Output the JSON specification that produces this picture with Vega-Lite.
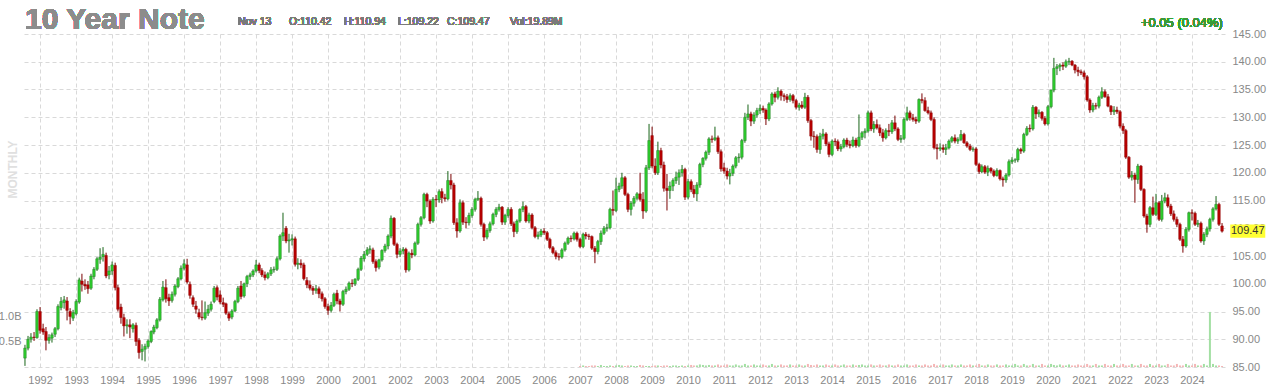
{
"$schema":"https://vega.github.io/schema/vega-lite/v6.json",
"width":1202,"height":333,
"autosize":{"type":"none"},
"padding":{"left":23,"top":34,"right":42,"bottom":21},
"background":"#ffffff",
"config":{"view":{"stroke":null},"font":"Liberation Sans","scale":{"continuousPadding":0},"axis":{"labelFont":"Liberation Sans","titleFont":"Liberation Sans","labelOverlap":false,"labelFlush":false}},
"data":{"values":[
{"d":"1991-08-01","o":86.6,"h":89.0,"l":85.2,"c":88.4},
{"d":"1991-09-01","o":88.4,"h":90.6,"l":88.0,"c":90.0},
{"d":"1991-10-01","o":90.0,"h":91.1,"l":89.4,"c":90.4},
{"d":"1991-11-01","o":90.4,"h":91.3,"l":89.7,"c":90.3},
{"d":"1991-12-01","o":90.3,"h":95.4,"l":90.1,"c":95.0},
{"d":"1992-01-01","o":95.0,"h":95.8,"l":91.0,"c":91.6},
{"d":"1992-02-01","o":91.9,"h":92.8,"l":90.8,"c":91.3},
{"d":"1992-03-01","o":91.4,"h":92.2,"l":88.0,"c":89.8},
{"d":"1992-04-01","o":89.8,"h":90.9,"l":89.2,"c":90.3},
{"d":"1992-05-01","o":90.2,"h":91.2,"l":89.4,"c":90.8},
{"d":"1992-06-01","o":90.9,"h":92.2,"l":90.4,"c":91.9},
{"d":"1992-07-01","o":91.9,"h":96.3,"l":91.6,"c":95.9},
{"d":"1992-08-01","o":95.7,"h":97.6,"l":95.2,"c":96.8},
{"d":"1992-09-01","o":96.6,"h":97.8,"l":95.5,"c":97.1},
{"d":"1992-10-01","o":96.9,"h":97.6,"l":93.4,"c":95.2},
{"d":"1992-11-01","o":95.0,"h":95.6,"l":92.7,"c":94.1},
{"d":"1992-12-01","o":93.8,"h":95.3,"l":93.3,"c":94.8},
{"d":"1993-01-01","o":94.6,"h":97.2,"l":94.3,"c":96.8},
{"d":"1993-02-01","o":96.7,"h":101.1,"l":96.4,"c":100.7},
{"d":"1993-03-01","o":100.5,"h":101.8,"l":98.6,"c":99.9},
{"d":"1993-04-01","o":99.9,"h":100.8,"l":98.9,"c":99.6},
{"d":"1993-05-01","o":99.8,"h":100.5,"l":98.2,"c":99.1},
{"d":"1993-06-01","o":99.2,"h":101.8,"l":98.9,"c":101.4},
{"d":"1993-07-01","o":101.3,"h":103.0,"l":100.8,"c":102.6},
{"d":"1993-08-01","o":102.6,"h":104.8,"l":102.3,"c":104.5},
{"d":"1993-09-01","o":104.4,"h":106.4,"l":103.6,"c":104.8},
{"d":"1993-10-01","o":104.9,"h":106.6,"l":104.0,"c":105.3},
{"d":"1993-11-01","o":105.1,"h":105.6,"l":101.0,"c":101.4},
{"d":"1993-12-01","o":101.6,"h":103.2,"l":100.8,"c":102.3},
{"d":"1994-01-01","o":102.3,"h":104.0,"l":101.6,"c":103.4},
{"d":"1994-02-01","o":103.3,"h":103.8,"l":98.8,"c":99.3},
{"d":"1994-03-01","o":99.3,"h":99.8,"l":95.0,"c":95.4},
{"d":"1994-04-01","o":95.8,"h":96.4,"l":92.8,"c":93.9},
{"d":"1994-05-01","o":93.9,"h":94.6,"l":90.5,"c":92.4},
{"d":"1994-06-01","o":92.4,"h":93.6,"l":91.0,"c":92.6},
{"d":"1994-07-01","o":92.6,"h":93.6,"l":90.2,"c":92.2},
{"d":"1994-08-01","o":91.9,"h":92.9,"l":91.2,"c":92.6},
{"d":"1994-09-01","o":92.5,"h":93.0,"l":88.8,"c":89.6},
{"d":"1994-10-01","o":89.8,"h":90.2,"l":86.5,"c":87.6},
{"d":"1994-11-01","o":87.8,"h":89.1,"l":86.2,"c":88.2},
{"d":"1994-12-01","o":88.2,"h":89.2,"l":86.0,"c":88.7},
{"d":"1995-01-01","o":88.7,"h":90.0,"l":88.3,"c":89.7},
{"d":"1995-02-01","o":89.6,"h":91.6,"l":89.3,"c":91.4},
{"d":"1995-03-01","o":91.3,"h":92.6,"l":90.9,"c":92.2},
{"d":"1995-04-01","o":92.1,"h":93.8,"l":91.8,"c":93.5},
{"d":"1995-05-01","o":93.5,"h":97.6,"l":93.2,"c":97.2},
{"d":"1995-06-01","o":97.1,"h":100.5,"l":96.8,"c":99.4},
{"d":"1995-07-01","o":99.3,"h":100.8,"l":96.6,"c":97.3},
{"d":"1995-08-01","o":97.5,"h":98.2,"l":96.0,"c":96.9},
{"d":"1995-09-01","o":97.0,"h":98.6,"l":96.6,"c":98.1},
{"d":"1995-10-01","o":98.1,"h":99.9,"l":97.7,"c":99.6},
{"d":"1995-11-01","o":99.5,"h":101.2,"l":99.2,"c":100.9},
{"d":"1995-12-01","o":100.9,"h":103.3,"l":100.6,"c":102.8},
{"d":"1996-01-01","o":102.8,"h":104.4,"l":102.4,"c":103.6},
{"d":"1996-02-01","o":103.4,"h":104.5,"l":100.0,"c":100.3},
{"d":"1996-03-01","o":99.9,"h":100.4,"l":97.3,"c":97.9},
{"d":"1996-04-01","o":97.5,"h":97.9,"l":95.8,"c":96.3},
{"d":"1996-05-01","o":96.0,"h":96.9,"l":94.6,"c":95.4},
{"d":"1996-06-01","o":94.8,"h":95.5,"l":93.6,"c":94.0},
{"d":"1996-07-01","o":94.0,"h":97.0,"l":93.4,"c":93.9},
{"d":"1996-08-01","o":93.8,"h":96.8,"l":93.5,"c":94.8},
{"d":"1996-09-01","o":94.7,"h":96.2,"l":94.2,"c":95.4},
{"d":"1996-10-01","o":95.4,"h":96.8,"l":95.0,"c":96.3},
{"d":"1996-11-01","o":96.8,"h":99.6,"l":96.5,"c":99.2},
{"d":"1996-12-01","o":99.3,"h":99.7,"l":97.0,"c":97.6},
{"d":"1997-01-01","o":98.0,"h":98.8,"l":96.3,"c":96.7},
{"d":"1997-02-01","o":96.6,"h":97.5,"l":95.8,"c":96.3},
{"d":"1997-03-01","o":96.4,"h":96.6,"l":94.4,"c":94.7},
{"d":"1997-04-01","o":94.6,"h":95.0,"l":93.3,"c":93.8},
{"d":"1997-05-01","o":94.0,"h":95.4,"l":93.6,"c":95.1},
{"d":"1997-06-01","o":95.1,"h":97.1,"l":94.9,"c":96.8},
{"d":"1997-07-01","o":96.8,"h":99.6,"l":96.5,"c":99.2},
{"d":"1997-08-01","o":99.6,"h":100.5,"l":97.2,"c":97.7},
{"d":"1997-09-01","o":97.8,"h":100.2,"l":97.5,"c":100.0},
{"d":"1997-10-01","o":100.0,"h":101.6,"l":99.4,"c":101.3},
{"d":"1997-11-01","o":101.3,"h":102.0,"l":100.7,"c":101.6},
{"d":"1997-12-01","o":101.6,"h":102.6,"l":101.2,"c":102.3},
{"d":"1998-01-01","o":102.3,"h":104.3,"l":102.0,"c":103.4},
{"d":"1998-02-01","o":103.4,"h":103.8,"l":101.9,"c":102.4},
{"d":"1998-03-01","o":102.4,"h":102.8,"l":101.2,"c":101.6},
{"d":"1998-04-01","o":101.6,"h":102.2,"l":100.6,"c":101.1},
{"d":"1998-05-01","o":101.1,"h":102.1,"l":100.8,"c":101.8},
{"d":"1998-06-01","o":101.8,"h":103.0,"l":101.4,"c":102.5},
{"d":"1998-07-01","o":102.5,"h":103.1,"l":102.0,"c":102.6},
{"d":"1998-08-01","o":102.6,"h":104.9,"l":102.3,"c":104.5},
{"d":"1998-09-01","o":104.5,"h":108.9,"l":104.2,"c":108.6},
{"d":"1998-10-01","o":108.6,"h":112.8,"l":107.7,"c":109.2},
{"d":"1998-11-01","o":110.0,"h":110.4,"l":107.3,"c":107.7},
{"d":"1998-12-01","o":107.7,"h":109.0,"l":105.6,"c":107.9},
{"d":"1999-01-01","o":107.9,"h":108.9,"l":106.9,"c":108.1},
{"d":"1999-02-01","o":108.1,"h":108.5,"l":103.1,"c":103.5},
{"d":"1999-03-01","o":103.5,"h":104.6,"l":102.6,"c":103.7},
{"d":"1999-04-01","o":103.7,"h":104.4,"l":102.8,"c":103.4},
{"d":"1999-05-01","o":103.4,"h":103.8,"l":100.6,"c":100.9},
{"d":"1999-06-01","o":100.6,"h":101.2,"l":99.2,"c":99.8},
{"d":"1999-07-01","o":99.8,"h":100.6,"l":98.8,"c":99.2},
{"d":"1999-08-01","o":99.2,"h":99.6,"l":98.0,"c":98.8},
{"d":"1999-09-01","o":98.8,"h":99.8,"l":98.2,"c":99.1},
{"d":"1999-10-01","o":99.1,"h":99.5,"l":97.4,"c":98.2},
{"d":"1999-11-01","o":98.2,"h":98.6,"l":96.8,"c":97.3},
{"d":"1999-12-01","o":97.3,"h":97.6,"l":95.5,"c":95.9},
{"d":"2000-01-01","o":95.9,"h":96.4,"l":94.4,"c":95.2},
{"d":"2000-02-01","o":95.2,"h":96.7,"l":94.8,"c":96.1},
{"d":"2000-03-01","o":96.1,"h":98.4,"l":95.8,"c":98.1},
{"d":"2000-04-01","o":98.3,"h":98.9,"l":96.3,"c":96.9},
{"d":"2000-05-01","o":96.9,"h":97.3,"l":95.0,"c":96.3},
{"d":"2000-06-01","o":96.3,"h":98.9,"l":96.0,"c":98.6},
{"d":"2000-07-01","o":98.6,"h":99.5,"l":98.1,"c":99.0},
{"d":"2000-08-01","o":99.0,"h":100.4,"l":98.7,"c":100.1},
{"d":"2000-09-01","o":100.1,"h":100.8,"l":99.4,"c":100.0},
{"d":"2000-10-01","o":100.0,"h":101.0,"l":99.6,"c":100.8},
{"d":"2000-11-01","o":100.8,"h":102.9,"l":100.5,"c":102.6},
{"d":"2000-12-01","o":102.6,"h":105.0,"l":102.3,"c":104.6},
{"d":"2001-01-01","o":104.5,"h":105.9,"l":104.0,"c":105.3},
{"d":"2001-02-01","o":105.3,"h":106.6,"l":105.0,"c":106.1},
{"d":"2001-03-01","o":106.1,"h":106.9,"l":105.4,"c":106.3},
{"d":"2001-04-01","o":106.1,"h":106.5,"l":103.6,"c":104.0},
{"d":"2001-05-01","o":104.0,"h":104.4,"l":102.2,"c":102.9},
{"d":"2001-06-01","o":103.0,"h":104.5,"l":102.6,"c":104.3},
{"d":"2001-07-01","o":104.3,"h":106.2,"l":104.0,"c":106.0},
{"d":"2001-08-01","o":106.0,"h":107.2,"l":105.6,"c":106.8},
{"d":"2001-09-01","o":106.8,"h":108.9,"l":106.2,"c":108.6},
{"d":"2001-10-01","o":108.6,"h":112.3,"l":108.2,"c":111.8},
{"d":"2001-11-01","o":111.8,"h":112.0,"l":106.8,"c":107.1},
{"d":"2001-12-01","o":107.1,"h":107.4,"l":104.6,"c":105.3},
{"d":"2002-01-01","o":105.3,"h":106.4,"l":104.8,"c":105.9},
{"d":"2002-02-01","o":105.9,"h":106.6,"l":105.3,"c":106.2},
{"d":"2002-03-01","o":106.2,"h":106.5,"l":102.0,"c":102.5},
{"d":"2002-04-01","o":102.5,"h":105.8,"l":102.2,"c":105.5},
{"d":"2002-05-01","o":105.5,"h":106.2,"l":104.6,"c":105.2},
{"d":"2002-06-01","o":105.2,"h":107.6,"l":104.9,"c":107.3},
{"d":"2002-07-01","o":107.3,"h":111.0,"l":107.0,"c":110.7},
{"d":"2002-08-01","o":110.7,"h":112.2,"l":110.3,"c":111.9},
{"d":"2002-09-01","o":111.9,"h":116.4,"l":111.6,"c":116.1},
{"d":"2002-10-01","o":116.1,"h":116.4,"l":113.8,"c":114.9},
{"d":"2002-11-01","o":114.9,"h":115.2,"l":110.8,"c":111.3},
{"d":"2002-12-01","o":111.3,"h":115.6,"l":111.0,"c":115.2},
{"d":"2003-01-01","o":115.2,"h":116.0,"l":113.8,"c":115.1},
{"d":"2003-02-01","o":115.1,"h":117.0,"l":114.6,"c":116.6},
{"d":"2003-03-01","o":116.6,"h":117.2,"l":114.5,"c":115.5},
{"d":"2003-04-01","o":115.5,"h":116.2,"l":114.8,"c":115.3},
{"d":"2003-05-01","o":115.3,"h":120.3,"l":115.0,"c":118.6},
{"d":"2003-06-01","o":118.6,"h":119.8,"l":117.0,"c":117.8},
{"d":"2003-07-01","o":117.8,"h":118.2,"l":110.6,"c":111.0},
{"d":"2003-08-01","o":111.0,"h":111.8,"l":108.3,"c":109.5},
{"d":"2003-09-01","o":109.5,"h":115.2,"l":109.2,"c":114.6},
{"d":"2003-10-01","o":114.6,"h":115.0,"l":110.6,"c":111.1},
{"d":"2003-11-01","o":111.1,"h":112.0,"l":110.0,"c":111.0},
{"d":"2003-12-01","o":111.0,"h":112.8,"l":110.5,"c":112.3},
{"d":"2004-01-01","o":112.3,"h":113.8,"l":111.9,"c":113.4},
{"d":"2004-02-01","o":113.4,"h":115.5,"l":113.0,"c":115.2},
{"d":"2004-03-01","o":115.2,"h":116.7,"l":114.9,"c":115.4},
{"d":"2004-04-01","o":115.4,"h":115.7,"l":110.3,"c":110.7},
{"d":"2004-05-01","o":110.7,"h":111.0,"l":107.7,"c":108.4},
{"d":"2004-06-01","o":108.4,"h":110.0,"l":108.0,"c":109.6},
{"d":"2004-07-01","o":109.6,"h":111.2,"l":109.2,"c":110.8},
{"d":"2004-08-01","o":110.8,"h":112.8,"l":110.5,"c":112.5},
{"d":"2004-09-01","o":112.5,"h":113.8,"l":112.0,"c":113.4},
{"d":"2004-10-01","o":113.4,"h":114.4,"l":113.0,"c":113.8},
{"d":"2004-11-01","o":113.8,"h":114.0,"l":110.6,"c":111.1},
{"d":"2004-12-01","o":111.1,"h":112.6,"l":110.6,"c":112.3},
{"d":"2005-01-01","o":112.3,"h":113.8,"l":111.9,"c":113.4},
{"d":"2005-02-01","o":113.4,"h":113.8,"l":110.4,"c":110.8},
{"d":"2005-03-01","o":110.8,"h":111.2,"l":108.4,"c":109.4},
{"d":"2005-04-01","o":109.4,"h":111.6,"l":109.0,"c":111.3},
{"d":"2005-05-01","o":111.3,"h":113.6,"l":111.0,"c":113.4},
{"d":"2005-06-01","o":113.4,"h":114.8,"l":112.9,"c":113.9},
{"d":"2005-07-01","o":113.9,"h":114.2,"l":111.0,"c":111.3},
{"d":"2005-08-01","o":111.3,"h":112.8,"l":110.9,"c":112.4},
{"d":"2005-09-01","o":112.4,"h":112.7,"l":109.8,"c":110.1},
{"d":"2005-10-01","o":110.1,"h":110.4,"l":108.2,"c":108.5},
{"d":"2005-11-01","o":108.5,"h":109.4,"l":108.0,"c":108.8},
{"d":"2005-12-01","o":108.8,"h":109.9,"l":108.4,"c":109.5},
{"d":"2006-01-01","o":109.5,"h":110.0,"l":108.8,"c":109.2},
{"d":"2006-02-01","o":109.2,"h":109.5,"l":107.7,"c":108.0},
{"d":"2006-03-01","o":108.0,"h":108.3,"l":106.2,"c":106.5},
{"d":"2006-04-01","o":106.5,"h":106.8,"l":105.3,"c":105.6},
{"d":"2006-05-01","o":105.6,"h":106.0,"l":104.4,"c":104.9},
{"d":"2006-06-01","o":104.9,"h":105.5,"l":104.2,"c":104.8},
{"d":"2006-07-01","o":104.8,"h":106.4,"l":104.5,"c":106.1},
{"d":"2006-08-01","o":106.1,"h":107.6,"l":105.8,"c":107.3},
{"d":"2006-09-01","o":107.3,"h":108.5,"l":107.0,"c":108.2},
{"d":"2006-10-01","o":108.2,"h":108.7,"l":107.5,"c":108.1},
{"d":"2006-11-01","o":108.1,"h":109.4,"l":107.8,"c":109.1},
{"d":"2006-12-01","o":109.1,"h":109.4,"l":107.6,"c":108.0},
{"d":"2007-01-01","o":108.0,"h":108.3,"l":106.4,"c":106.7,"v":0.02},
{"d":"2007-02-01","o":106.7,"h":109.2,"l":106.4,"c":108.9,"v":0.03},
{"d":"2007-03-01","o":108.9,"h":109.3,"l":108.0,"c":108.6,"v":0.02},
{"d":"2007-04-01","o":108.6,"h":109.0,"l":107.9,"c":108.5,"v":0.02},
{"d":"2007-05-01","o":108.5,"h":108.7,"l":106.1,"c":106.4,"v":0.03},
{"d":"2007-06-01","o":106.4,"h":106.8,"l":103.7,"c":105.8,"v":0.03},
{"d":"2007-07-01","o":105.8,"h":107.9,"l":105.3,"c":107.6,"v":0.02},
{"d":"2007-08-01","o":107.6,"h":109.6,"l":107.0,"c":109.1,"v":0.04},
{"d":"2007-09-01","o":109.1,"h":110.4,"l":108.8,"c":110.0,"v":0.02},
{"d":"2007-10-01","o":110.0,"h":110.8,"l":109.4,"c":110.1,"v":0.02},
{"d":"2007-11-01","o":110.1,"h":113.7,"l":109.8,"c":113.4,"v":0.03},
{"d":"2007-12-01","o":113.4,"h":116.8,"l":112.3,"c":113.2,"v":0.02},
{"d":"2008-01-01","o":113.2,"h":119.1,"l":112.9,"c":117.0,"v":0.03},
{"d":"2008-02-01","o":117.0,"h":118.2,"l":116.5,"c":117.6,"v":0.04},
{"d":"2008-03-01","o":117.6,"h":120.0,"l":117.1,"c":119.1,"v":0.03},
{"d":"2008-04-01","o":119.1,"h":119.4,"l":115.8,"c":116.1,"v":0.02},
{"d":"2008-05-01","o":116.1,"h":116.4,"l":112.9,"c":113.4,"v":0.03},
{"d":"2008-06-01","o":113.4,"h":114.9,"l":112.3,"c":114.5,"v":0.03},
{"d":"2008-07-01","o":114.5,"h":115.8,"l":113.9,"c":115.4,"v":0.02},
{"d":"2008-08-01","o":115.4,"h":116.5,"l":115.0,"c":116.2,"v":0.02},
{"d":"2008-09-01","o":116.2,"h":120.0,"l":114.8,"c":115.2,"v":0.04},
{"d":"2008-10-01","o":115.2,"h":116.5,"l":111.7,"c":113.1,"v":0.03},
{"d":"2008-11-01","o":113.1,"h":121.4,"l":112.8,"c":120.9,"v":0.02},
{"d":"2008-12-01","o":120.9,"h":128.8,"l":120.5,"c":125.8,"v":0.02},
{"d":"2009-01-01","o":126.7,"h":128.3,"l":120.8,"c":121.2,"v":0.02},
{"d":"2009-02-01","o":121.2,"h":122.6,"l":119.6,"c":120.0,"v":0.03},
{"d":"2009-03-01","o":120.0,"h":125.6,"l":119.6,"c":124.0,"v":0.03},
{"d":"2009-04-01","o":124.0,"h":124.5,"l":120.8,"c":121.4,"v":0.02},
{"d":"2009-05-01","o":121.4,"h":122.0,"l":116.6,"c":117.2,"v":0.03},
{"d":"2009-06-01","o":117.2,"h":119.8,"l":113.2,"c":116.8,"v":0.03},
{"d":"2009-07-01","o":116.8,"h":118.4,"l":115.3,"c":117.6,"v":0.02},
{"d":"2009-08-01","o":117.6,"h":119.0,"l":116.7,"c":118.6,"v":0.03},
{"d":"2009-09-01","o":118.6,"h":120.2,"l":118.0,"c":119.2,"v":0.03},
{"d":"2009-10-01","o":119.2,"h":120.6,"l":117.8,"c":120.0,"v":0.02},
{"d":"2009-11-01","o":120.0,"h":121.4,"l":119.3,"c":120.6,"v":0.03},
{"d":"2009-12-01","o":120.6,"h":120.9,"l":115.1,"c":115.6,"v":0.02},
{"d":"2010-01-01","o":115.6,"h":118.9,"l":115.2,"c":118.4,"v":0.03},
{"d":"2010-02-01","o":118.4,"h":118.8,"l":116.5,"c":117.0,"v":0.04},
{"d":"2010-03-01","o":117.0,"h":117.8,"l":115.5,"c":116.2,"v":0.03},
{"d":"2010-04-01","o":116.2,"h":118.3,"l":114.9,"c":117.8,"v":0.03},
{"d":"2010-05-01","o":117.8,"h":121.8,"l":117.3,"c":121.5,"v":0.05},
{"d":"2010-06-01","o":121.5,"h":122.8,"l":121.0,"c":122.6,"v":0.04},
{"d":"2010-07-01","o":122.6,"h":124.0,"l":122.2,"c":123.7,"v":0.03},
{"d":"2010-08-01","o":123.7,"h":126.4,"l":123.2,"c":126.1,"v":0.04},
{"d":"2010-09-01","o":126.1,"h":126.7,"l":125.4,"c":126.0,"v":0.03},
{"d":"2010-10-01","o":126.0,"h":128.3,"l":125.7,"c":126.3,"v":0.03},
{"d":"2010-11-01","o":126.3,"h":126.7,"l":123.4,"c":123.8,"v":0.05},
{"d":"2010-12-01","o":123.8,"h":124.2,"l":120.2,"c":120.7,"v":0.03},
{"d":"2011-01-01","o":120.9,"h":121.8,"l":119.8,"c":120.3,"v":0.03},
{"d":"2011-02-01","o":120.3,"h":120.9,"l":118.8,"c":119.4,"v":0.05},
{"d":"2011-03-01","o":119.4,"h":120.7,"l":117.9,"c":119.9,"v":0.03},
{"d":"2011-04-01","o":119.9,"h":121.5,"l":119.4,"c":121.2,"v":0.03},
{"d":"2011-05-01","o":121.2,"h":123.0,"l":120.8,"c":122.7,"v":0.05},
{"d":"2011-06-01","o":122.7,"h":123.5,"l":121.8,"c":122.8,"v":0.03},
{"d":"2011-07-01","o":122.8,"h":126.1,"l":122.4,"c":125.8,"v":0.03},
{"d":"2011-08-01","o":125.8,"h":130.8,"l":125.4,"c":130.0,"v":0.06},
{"d":"2011-09-01","o":130.0,"h":132.3,"l":129.5,"c":130.6,"v":0.03},
{"d":"2011-10-01","o":130.6,"h":131.0,"l":128.4,"c":129.3,"v":0.03},
{"d":"2011-11-01","o":129.3,"h":130.9,"l":128.8,"c":130.4,"v":0.05},
{"d":"2011-12-01","o":130.4,"h":131.7,"l":129.9,"c":131.2,"v":0.03},
{"d":"2012-01-01","o":131.2,"h":132.3,"l":130.6,"c":131.6,"v":0.03},
{"d":"2012-02-01","o":131.6,"h":132.1,"l":130.8,"c":131.3,"v":0.05},
{"d":"2012-03-01","o":131.3,"h":131.6,"l":128.6,"c":129.7,"v":0.03},
{"d":"2012-04-01","o":129.7,"h":132.7,"l":129.3,"c":132.4,"v":0.03},
{"d":"2012-05-01","o":132.4,"h":134.5,"l":132.1,"c":134.2,"v":0.06},
{"d":"2012-06-01","o":134.2,"h":134.6,"l":132.7,"c":133.6,"v":0.03},
{"d":"2012-07-01","o":133.6,"h":135.4,"l":133.2,"c":134.7,"v":0.03},
{"d":"2012-08-01","o":134.7,"h":135.0,"l":133.0,"c":133.9,"v":0.05},
{"d":"2012-09-01","o":133.9,"h":134.3,"l":132.9,"c":133.7,"v":0.03},
{"d":"2012-10-01","o":133.7,"h":134.2,"l":132.6,"c":133.2,"v":0.03},
{"d":"2012-11-01","o":133.2,"h":134.3,"l":132.8,"c":133.9,"v":0.05},
{"d":"2012-12-01","o":133.9,"h":134.2,"l":132.5,"c":133.0,"v":0.03},
{"d":"2013-01-01","o":133.0,"h":133.3,"l":131.4,"c":131.8,"v":0.03},
{"d":"2013-02-01","o":131.8,"h":132.6,"l":131.2,"c":132.2,"v":0.05},
{"d":"2013-03-01","o":132.2,"h":132.9,"l":131.5,"c":131.8,"v":0.03},
{"d":"2013-04-01","o":131.8,"h":134.4,"l":131.5,"c":133.6,"v":0.03},
{"d":"2013-05-01","o":133.6,"h":134.0,"l":129.0,"c":129.4,"v":0.06},
{"d":"2013-06-01","o":129.4,"h":129.7,"l":125.8,"c":126.6,"v":0.04},
{"d":"2013-07-01","o":126.6,"h":127.5,"l":124.5,"c":126.5,"v":0.03},
{"d":"2013-08-01","o":126.5,"h":126.9,"l":123.6,"c":124.2,"v":0.05},
{"d":"2013-09-01","o":124.2,"h":127.2,"l":123.4,"c":126.6,"v":0.03},
{"d":"2013-10-01","o":126.6,"h":127.9,"l":126.0,"c":127.0,"v":0.03},
{"d":"2013-11-01","o":127.0,"h":127.3,"l":124.8,"c":125.2,"v":0.05},
{"d":"2013-12-01","o":125.2,"h":125.6,"l":122.8,"c":123.3,"v":0.03},
{"d":"2014-01-01","o":123.3,"h":126.0,"l":123.0,"c":125.7,"v":0.03},
{"d":"2014-02-01","o":125.7,"h":126.2,"l":124.8,"c":125.6,"v":0.05},
{"d":"2014-03-01","o":125.6,"h":126.0,"l":123.9,"c":124.3,"v":0.03},
{"d":"2014-04-01","o":124.3,"h":125.2,"l":123.8,"c":124.7,"v":0.03},
{"d":"2014-05-01","o":124.7,"h":126.2,"l":124.4,"c":125.9,"v":0.05},
{"d":"2014-06-01","o":125.9,"h":126.3,"l":124.6,"c":125.1,"v":0.03},
{"d":"2014-07-01","o":125.1,"h":125.8,"l":124.4,"c":124.9,"v":0.03},
{"d":"2014-08-01","o":124.9,"h":126.5,"l":124.6,"c":125.9,"v":0.05},
{"d":"2014-09-01","o":125.9,"h":126.3,"l":124.5,"c":124.9,"v":0.03},
{"d":"2014-10-01","o":124.9,"h":130.5,"l":124.6,"c":126.4,"v":0.04},
{"d":"2014-11-01","o":126.4,"h":127.5,"l":125.9,"c":127.2,"v":0.05},
{"d":"2014-12-01","o":127.2,"h":128.0,"l":126.2,"c":127.5,"v":0.03},
{"d":"2015-01-01","o":127.5,"h":131.2,"l":127.2,"c":130.8,"v":0.03},
{"d":"2015-02-01","o":130.8,"h":131.2,"l":127.5,"c":127.9,"v":0.05},
{"d":"2015-03-01","o":127.9,"h":129.3,"l":127.2,"c":128.7,"v":0.03},
{"d":"2015-04-01","o":128.7,"h":129.6,"l":127.8,"c":128.1,"v":0.03},
{"d":"2015-05-01","o":128.1,"h":128.7,"l":126.6,"c":127.2,"v":0.05},
{"d":"2015-06-01","o":127.2,"h":127.9,"l":125.6,"c":126.3,"v":0.03},
{"d":"2015-07-01","o":126.3,"h":128.0,"l":126.0,"c":127.6,"v":0.03},
{"d":"2015-08-01","o":127.6,"h":128.8,"l":126.6,"c":127.4,"v":0.05},
{"d":"2015-09-01","o":127.4,"h":129.5,"l":127.0,"c":129.0,"v":0.03},
{"d":"2015-10-01","o":129.0,"h":130.3,"l":127.5,"c":127.9,"v":0.03},
{"d":"2015-11-01","o":127.9,"h":128.2,"l":125.7,"c":126.0,"v":0.05},
{"d":"2015-12-01","o":126.0,"h":126.8,"l":125.4,"c":126.2,"v":0.03},
{"d":"2016-01-01","o":126.2,"h":130.0,"l":125.9,"c":129.6,"v":0.03},
{"d":"2016-02-01","o":129.6,"h":131.9,"l":129.3,"c":130.8,"v":0.05},
{"d":"2016-03-01","o":130.8,"h":131.2,"l":129.4,"c":129.9,"v":0.03},
{"d":"2016-04-01","o":129.9,"h":130.6,"l":129.2,"c":129.6,"v":0.03},
{"d":"2016-05-01","o":129.6,"h":130.1,"l":128.8,"c":129.3,"v":0.05},
{"d":"2016-06-01","o":129.3,"h":133.4,"l":129.0,"c":133.2,"v":0.03},
{"d":"2016-07-01","o":133.2,"h":134.3,"l":132.5,"c":133.0,"v":0.03},
{"d":"2016-08-01","o":133.0,"h":133.6,"l":131.0,"c":131.2,"v":0.05},
{"d":"2016-09-01","o":131.2,"h":131.9,"l":130.5,"c":130.8,"v":0.03},
{"d":"2016-10-01","o":130.8,"h":131.2,"l":129.3,"c":129.6,"v":0.03},
{"d":"2016-11-01","o":129.6,"h":130.0,"l":124.2,"c":124.5,"v":0.06},
{"d":"2016-12-01","o":124.5,"h":125.2,"l":122.4,"c":124.3,"v":0.03},
{"d":"2017-01-01","o":124.3,"h":125.3,"l":123.9,"c":124.5,"v":0.03},
{"d":"2017-02-01","o":124.5,"h":125.1,"l":123.6,"c":124.2,"v":0.05},
{"d":"2017-03-01","o":124.2,"h":125.2,"l":123.2,"c":124.5,"v":0.03},
{"d":"2017-04-01","o":124.5,"h":126.0,"l":124.2,"c":125.7,"v":0.03},
{"d":"2017-05-01","o":125.7,"h":126.6,"l":125.4,"c":126.3,"v":0.05},
{"d":"2017-06-01","o":126.3,"h":126.9,"l":125.3,"c":125.7,"v":0.03},
{"d":"2017-07-01","o":125.7,"h":126.4,"l":125.2,"c":126.0,"v":0.03},
{"d":"2017-08-01","o":126.0,"h":127.7,"l":125.7,"c":126.9,"v":0.05},
{"d":"2017-09-01","o":126.9,"h":127.2,"l":125.2,"c":125.4,"v":0.03},
{"d":"2017-10-01","o":125.4,"h":125.7,"l":124.5,"c":124.8,"v":0.03},
{"d":"2017-11-01","o":124.8,"h":125.2,"l":123.9,"c":124.2,"v":0.05},
{"d":"2017-12-01","o":124.2,"h":124.7,"l":123.8,"c":124.3,"v":0.03},
{"d":"2018-01-01","o":124.3,"h":124.6,"l":121.2,"c":121.5,"v":0.03},
{"d":"2018-02-01","o":121.5,"h":121.8,"l":119.8,"c":120.2,"v":0.06},
{"d":"2018-03-01","o":120.2,"h":121.5,"l":119.9,"c":121.1,"v":0.03},
{"d":"2018-04-01","o":121.1,"h":121.4,"l":119.8,"c":120.1,"v":0.03},
{"d":"2018-05-01","o":120.1,"h":121.3,"l":119.4,"c":120.8,"v":0.05},
{"d":"2018-06-01","o":120.8,"h":121.0,"l":119.9,"c":120.3,"v":0.03},
{"d":"2018-07-01","o":120.3,"h":120.6,"l":119.2,"c":119.5,"v":0.03},
{"d":"2018-08-01","o":119.5,"h":120.8,"l":119.3,"c":120.4,"v":0.05},
{"d":"2018-09-01","o":120.4,"h":120.6,"l":118.6,"c":118.9,"v":0.03},
{"d":"2018-10-01","o":118.9,"h":119.3,"l":117.5,"c":118.7,"v":0.03},
{"d":"2018-11-01","o":118.7,"h":119.9,"l":118.2,"c":119.6,"v":0.05},
{"d":"2018-12-01","o":119.6,"h":122.4,"l":119.3,"c":122.0,"v":0.03},
{"d":"2019-01-01","o":122.0,"h":122.8,"l":121.6,"c":122.3,"v":0.03},
{"d":"2019-02-01","o":122.3,"h":122.6,"l":121.8,"c":122.3,"v":0.06},
{"d":"2019-03-01","o":122.3,"h":124.5,"l":121.9,"c":124.2,"v":0.03},
{"d":"2019-04-01","o":124.2,"h":124.5,"l":123.4,"c":123.9,"v":0.03},
{"d":"2019-05-01","o":123.9,"h":127.2,"l":123.6,"c":126.9,"v":0.06},
{"d":"2019-06-01","o":126.9,"h":128.4,"l":126.6,"c":128.0,"v":0.03},
{"d":"2019-07-01","o":128.0,"h":128.7,"l":127.3,"c":127.9,"v":0.03},
{"d":"2019-08-01","o":127.9,"h":132.2,"l":127.6,"c":131.8,"v":0.06},
{"d":"2019-09-01","o":131.8,"h":132.0,"l":129.7,"c":130.6,"v":0.03},
{"d":"2019-10-01","o":130.6,"h":131.4,"l":130.0,"c":130.9,"v":0.03},
{"d":"2019-11-01","o":130.9,"h":131.1,"l":129.4,"c":129.8,"v":0.06},
{"d":"2019-12-01","o":129.8,"h":130.2,"l":128.5,"c":128.8,"v":0.03},
{"d":"2020-01-01","o":128.8,"h":132.2,"l":128.5,"c":131.9,"v":0.03},
{"d":"2020-02-01","o":131.9,"h":135.0,"l":131.6,"c":134.9,"v":0.06},
{"d":"2020-03-01","o":134.9,"h":140.7,"l":134.5,"c":138.8,"v":0.04},
{"d":"2020-04-01","o":138.8,"h":139.6,"l":137.6,"c":139.1,"v":0.03},
{"d":"2020-05-01","o":139.1,"h":139.7,"l":138.3,"c":139.4,"v":0.05},
{"d":"2020-06-01","o":139.4,"h":139.9,"l":138.5,"c":139.2,"v":0.03},
{"d":"2020-07-01","o":139.2,"h":140.4,"l":138.9,"c":140.0,"v":0.03},
{"d":"2020-08-01","o":140.0,"h":140.7,"l":139.4,"c":140.1,"v":0.05},
{"d":"2020-09-01","o":140.1,"h":140.3,"l":139.2,"c":139.4,"v":0.03},
{"d":"2020-10-01","o":139.4,"h":139.6,"l":137.9,"c":138.5,"v":0.03},
{"d":"2020-11-01","o":138.5,"h":139.1,"l":137.4,"c":138.2,"v":0.05},
{"d":"2020-12-01","o":138.2,"h":138.6,"l":137.6,"c":138.0,"v":0.03},
{"d":"2021-01-01","o":138.0,"h":138.4,"l":136.8,"c":137.3,"v":0.03},
{"d":"2021-02-01","o":137.3,"h":137.6,"l":132.8,"c":133.1,"v":0.06},
{"d":"2021-03-01","o":133.1,"h":133.4,"l":130.8,"c":131.3,"v":0.03},
{"d":"2021-04-01","o":131.3,"h":132.6,"l":130.9,"c":132.1,"v":0.03},
{"d":"2021-05-01","o":132.1,"h":132.6,"l":131.4,"c":132.0,"v":0.06},
{"d":"2021-06-01","o":132.0,"h":133.9,"l":131.6,"c":133.6,"v":0.03},
{"d":"2021-07-01","o":133.6,"h":135.4,"l":133.3,"c":134.6,"v":0.03},
{"d":"2021-08-01","o":134.6,"h":135.0,"l":133.5,"c":133.7,"v":0.06},
{"d":"2021-09-01","o":133.7,"h":134.2,"l":131.8,"c":132.0,"v":0.03},
{"d":"2021-10-01","o":132.0,"h":132.2,"l":130.4,"c":131.0,"v":0.03},
{"d":"2021-11-01","o":131.0,"h":132.0,"l":130.4,"c":131.3,"v":0.06},
{"d":"2021-12-01","o":131.3,"h":131.9,"l":130.6,"c":131.0,"v":0.03},
{"d":"2022-01-01","o":131.0,"h":131.3,"l":128.0,"c":128.4,"v":0.03},
{"d":"2022-02-01","o":128.4,"h":128.9,"l":127.0,"c":127.6,"v":0.06},
{"d":"2022-03-01","o":127.6,"h":127.9,"l":122.5,"c":122.8,"v":0.03},
{"d":"2022-04-01","o":122.8,"h":123.0,"l":118.9,"c":119.2,"v":0.03},
{"d":"2022-05-01","o":119.2,"h":120.3,"l":118.6,"c":119.6,"v":0.06},
{"d":"2022-06-01","o":119.6,"h":120.0,"l":114.6,"c":118.8,"v":0.03},
{"d":"2022-07-01","o":118.8,"h":121.6,"l":118.0,"c":121.2,"v":0.03},
{"d":"2022-08-01","o":121.2,"h":121.4,"l":116.7,"c":117.0,"v":0.06},
{"d":"2022-09-01","o":117.0,"h":117.2,"l":111.9,"c":112.2,"v":0.03},
{"d":"2022-10-01","o":112.2,"h":112.6,"l":109.2,"c":110.7,"v":0.03},
{"d":"2022-11-01","o":110.7,"h":114.0,"l":110.2,"c":113.7,"v":0.06},
{"d":"2022-12-01","o":113.7,"h":115.7,"l":112.2,"c":112.5,"v":0.03},
{"d":"2023-01-01","o":112.5,"h":116.2,"l":112.2,"c":114.6,"v":0.03},
{"d":"2023-02-01","o":114.6,"h":114.9,"l":111.3,"c":111.6,"v":0.06},
{"d":"2023-03-01","o":111.6,"h":116.0,"l":111.2,"c":114.9,"v":0.03},
{"d":"2023-04-01","o":114.9,"h":116.4,"l":114.5,"c":115.5,"v":0.03},
{"d":"2023-05-01","o":115.5,"h":116.1,"l":113.7,"c":114.0,"v":0.06},
{"d":"2023-06-01","o":114.0,"h":114.4,"l":112.2,"c":112.6,"v":0.03},
{"d":"2023-07-01","o":112.6,"h":113.2,"l":111.2,"c":111.6,"v":0.03},
{"d":"2023-08-01","o":111.6,"h":112.1,"l":110.2,"c":110.7,"v":0.06},
{"d":"2023-09-01","o":110.7,"h":111.0,"l":107.7,"c":108.0,"v":0.03},
{"d":"2023-10-01","o":108.0,"h":108.6,"l":105.6,"c":106.8,"v":0.03},
{"d":"2023-11-01","o":106.8,"h":110.2,"l":106.5,"c":109.8,"v":0.06},
{"d":"2023-12-01","o":109.8,"h":113.0,"l":109.4,"c":112.8,"v":0.03},
{"d":"2024-01-01","o":112.8,"h":113.4,"l":111.4,"c":112.7,"v":0.03},
{"d":"2024-02-01","o":112.7,"h":113.0,"l":110.4,"c":110.7,"v":0.06},
{"d":"2024-03-01","o":110.7,"h":111.5,"l":110.2,"c":110.9,"v":0.03},
{"d":"2024-04-01","o":110.9,"h":111.2,"l":107.4,"c":107.7,"v":0.03},
{"d":"2024-05-01","o":107.7,"h":109.3,"l":107.0,"c":108.9,"v":0.06},
{"d":"2024-06-01","o":108.9,"h":110.3,"l":108.4,"c":109.9,"v":0.03},
{"d":"2024-07-01","o":109.9,"h":111.9,"l":109.4,"c":111.6,"v":1.08},
{"d":"2024-08-01","o":111.6,"h":113.8,"l":111.2,"c":113.5,"v":0.06},
{"d":"2024-09-01","o":113.5,"h":115.8,"l":113.2,"c":114.3,"v":0.03},
{"d":"2024-10-01","o":114.3,"h":114.6,"l":110.4,"c":110.7,"v":0.03},
{"d":"2024-11-01","o":110.42,"h":110.94,"l":109.22,"c":109.47,"v":0.02}
]},
"encoding":{"x":{"field":"d","type":"temporal","scale":{"type":"utc","nice":false,"padding":0,"domain":[{"year":1991,"month":7,"date":12,"utc":true},{"year":2024,"month":12,"date":1,"utc":true}]},"axis":{"orient":"bottom","format":"%Y","tickCount":{"interval":"year","step":1},"grid":true,"gridDash":[4,3],"gridColor":"#d9d9d9","ticks":false,"domain":false,"labelPadding":7,"labelColor":"#888888","labelFontSize":11,"labelOverlap":false,"labelFlush":false,"title":null}}},
"layer":[
{"transform":[{"filter":"isValid(datum.v)"}],"mark":{"type":"bar","width":2},"encoding":{"y":{"field":"v","type":"quantitative","scale":{"domain":[0,6.53],"nice":false},"axis":{"orient":"left","values":[0.5,1.0],"tickCount":10,"labelExpr":"format(datum.value,'.1f')+'B'","grid":false,"ticks":false,"domain":false,"labelPadding":2,"labelColor":"#888888","labelFontSize":11,"title":"MONTHLY","titleColor":"#e0e0e0","titleFontSize":12,"titleFontWeight":"bold","titleAngle":-90,"titleX":-11,"titleY":135,"titleAlign":"center","titleBaseline":"middle"}},"color":{"condition":{"test":"datum.c >= datum.o","value":"#a3dfa3"},"value":"#f4b6b6"}}},
{"layer":[
{"mark":{"type":"rule","strokeWidth":1},"encoding":{"y":{"field":"l","type":"quantitative","scale":{"domain":[85,145],"nice":false,"zero":false},"axis":{"orient":"right","values":[85,90,95,100,105,110,115,120,125,130,135,140,145],"tickCount":20,"format":".2f","grid":true,"gridDash":[4,3],"gridColor":"#d9d9d9","ticks":false,"domain":false,"labelPadding":7,"labelColor":"#888888","labelFontSize":11,"labelOverlap":false,"labelFlush":false,"title":null}},"y2":{"field":"h"},"color":{"condition":{"test":"datum.c >= datum.o","value":"#176417"},"value":"#7a0000"}}},
{"mark":{"type":"bar","width":2.6,"strokeWidth":0.4},"encoding":{"y":{"field":"o","type":"quantitative"},"y2":{"field":"c"},"fill":{"condition":{"test":"datum.c >= datum.o","value":"#2ecc2e"},"value":"#b80000"},"stroke":{"condition":{"test":"datum.c >= datum.o","value":"#1d6e1d"},"value":"#850000"}}},
{"transform":[{"filter":"datum.c == 109.47"}],"mark":{"type":"point","shape":"M-1,-0.38H1V0.38H-1Z","size":1225,"filled":true,"fill":"#ffff33","opacity":1,"strokeWidth":0},"encoding":{"x":{"datum":{"year":2025,"month":7,"date":20,"utc":true},"type":"temporal"},"y":{"field":"c","type":"quantitative"}}},
{"transform":[{"filter":"datum.c == 109.47"}],"mark":{"type":"text","fontSize":11,"fill":"#333333","align":"center","baseline":"middle"},"encoding":{"x":{"datum":{"year":2025,"month":7,"date":20,"utc":true},"type":"temporal"},"y":{"field":"c","type":"quantitative"},"text":{"field":"c","type":"quantitative","format":".2f"}}},
{"mark":{"type":"text","text":"10 Year Note","fontSize":30,"fontWeight":"bold","fill":"#8c8c8c","align":"left","baseline":"alphabetic"},"encoding":{"x":{"datum":{"year":1991,"month":8,"date":2,"utc":true},"type":"temporal"},"y":{"datum":145.9,"type":"quantitative"}}},
{"mark":{"type":"text","text":"Nov 13","fontSize":10.5,"fill":"#7a7a7a","align":"left","baseline":"alphabetic"},"encoding":{"x":{"datum":{"year":1997,"month":7,"date":2,"utc":true},"type":"temporal"},"y":{"datum":146.6,"type":"quantitative"}}},
{"mark":{"type":"text","text":"O:110.42","fontSize":10.5,"fill":"#7a7a7a","align":"left","baseline":"alphabetic"},"encoding":{"x":{"datum":{"year":1998,"month":12,"date":1,"utc":true},"type":"temporal"},"y":{"datum":146.6,"type":"quantitative"}}},
{"mark":{"type":"text","text":"H:110.94","fontSize":10.5,"fill":"#7a7a7a","align":"left","baseline":"alphabetic"},"encoding":{"x":{"datum":{"year":2000,"month":6,"date":11,"utc":true},"type":"temporal"},"y":{"datum":146.6,"type":"quantitative"}}},
{"mark":{"type":"text","text":"L:109.22","fontSize":10.5,"fill":"#7a7a7a","align":"left","baseline":"alphabetic"},"encoding":{"x":{"datum":{"year":2001,"month":12,"date":11,"utc":true},"type":"temporal"},"y":{"datum":146.6,"type":"quantitative"}}},
{"mark":{"type":"text","text":"C:109.47","fontSize":10.5,"fill":"#7a7a7a","align":"left","baseline":"alphabetic"},"encoding":{"x":{"datum":{"year":2003,"month":4,"date":22,"utc":true},"type":"temporal"},"y":{"datum":146.6,"type":"quantitative"}}},
{"mark":{"type":"text","text":"Vol:19.89M","fontSize":10.5,"fill":"#7a7a7a","align":"left","baseline":"alphabetic"},"encoding":{"x":{"datum":{"year":2005,"month":1,"date":21,"utc":true},"type":"temporal"},"y":{"datum":146.6,"type":"quantitative"}}},
{"mark":{"type":"text","text":"+0.05 (0.04%)","fontSize":13,"fill":"#3a9a3a","align":"right","baseline":"alphabetic"},"encoding":{"x":{"datum":{"year":2024,"month":11,"date":10,"utc":true},"type":"temporal"},"y":{"datum":146.3,"type":"quantitative"}}}
]}
],
"resolve":{"scale":{"y":"independent"}}
}
